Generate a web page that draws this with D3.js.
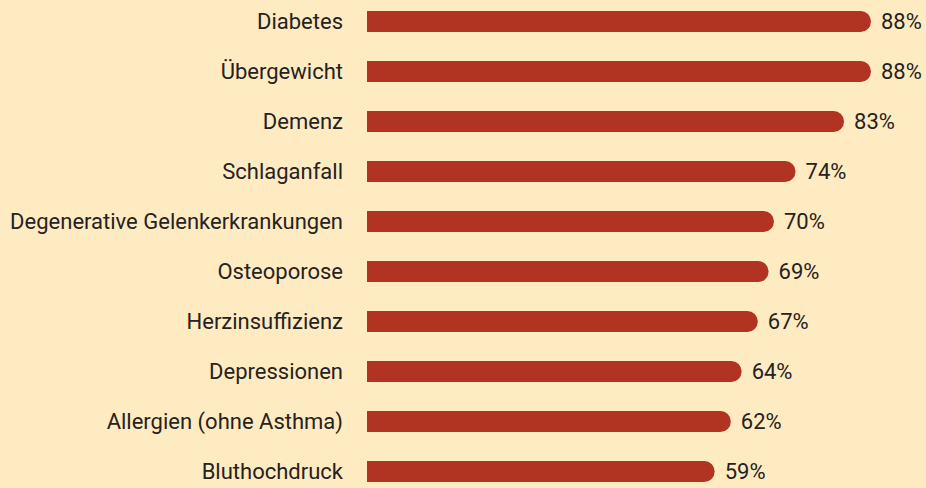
<!DOCTYPE html>
<html>
<head>
<meta charset="utf-8">
<script src="https://cdn.jsdelivr.net/npm/d3@7"></script>
<style>
    body { margin: 0; background: #FEEBC2; }
    #chart { width: 926px; height: 488px; }
    text { font-family: Roboto, "Open Sans", sans-serif; fill: #262220; }
</style>
</head>
<body>
<div id="chart"></div>
<script>
//Datos
const categorias = ['Diabetes', 'Übergewicht', 'Demenz', 'Schlaganfall', 'Degenerative Gelenkerkrankungen',
    'Osteoporose', 'Herzinsuffizienz', 'Depressionen', 'Allergien (ohne Asthma)', 'Bluthochdruck'];
const valores = [88, 88, 83, 74, 70, 69, 67, 64, 62, 59];

//Colores fijos
const COLOR_BAR = '#B03421',
    COLOR_BG = '#FEEBC2';

let margin = {top: 0, right: 55, bottom: 0, left: 367},
    width = 926 - margin.left - margin.right,
    height = 488 - margin.top - margin.bottom;

let svg = d3.select('#chart')
    .append('svg')
        .attr('width', width + margin.left + margin.right)
        .attr('height', height + margin.top + margin.bottom)
    .append('g')
        .attr('transform', 'translate(' + margin.left + ',' + margin.top + ')');

let data = categorias.map(function(c, i) { return {cat: c, value: valores[i]}; });

//El eje no empieza en 0 en el original
let x = d3.scaleLinear()
    .domain([-5.5, 88])
    .range([0, 504]);

let y = d3.scaleBand()
    .domain(categorias)
    .range([-3.5, 496.5])
    .paddingInner(0.58)
    .paddingOuter(0.29);

let barH = y.bandwidth(),
    r = barH / 2;

//Barras con extremo derecho redondeado
function barPath(w) {
    return 'M0,0H' + (w - r) + 'A' + r + ',' + r + ' 0 0 1 ' + (w - r) + ',' + barH + 'H0Z';
}

let rows = svg.selectAll('.row')
    .data(data)
    .enter()
    .append('g')
    .attr('class', 'row')
    .attr('transform', function(d) { return 'translate(0,' + y(d.cat) + ')'; });

rows.append('path')
    .attr('fill', COLOR_BAR)
    .attr('d', function(d) { return barPath(x(d.value)); });

rows.append('text')
    .attr('x', -24)
    .attr('y', barH / 2)
    .attr('dy', '0.36em')
    .attr('text-anchor', 'end')
    .style('font-size', '22px')
    .text(function(d) { return d.cat; });

rows.append('text')
    .attr('x', function(d) { return x(d.value) + 10; })
    .attr('y', barH / 2)
    .attr('dy', '0.36em')
    .style('font-size', '22px')
    .text(function(d) { return d.value + '%'; });
</script>
</body>
</html>
